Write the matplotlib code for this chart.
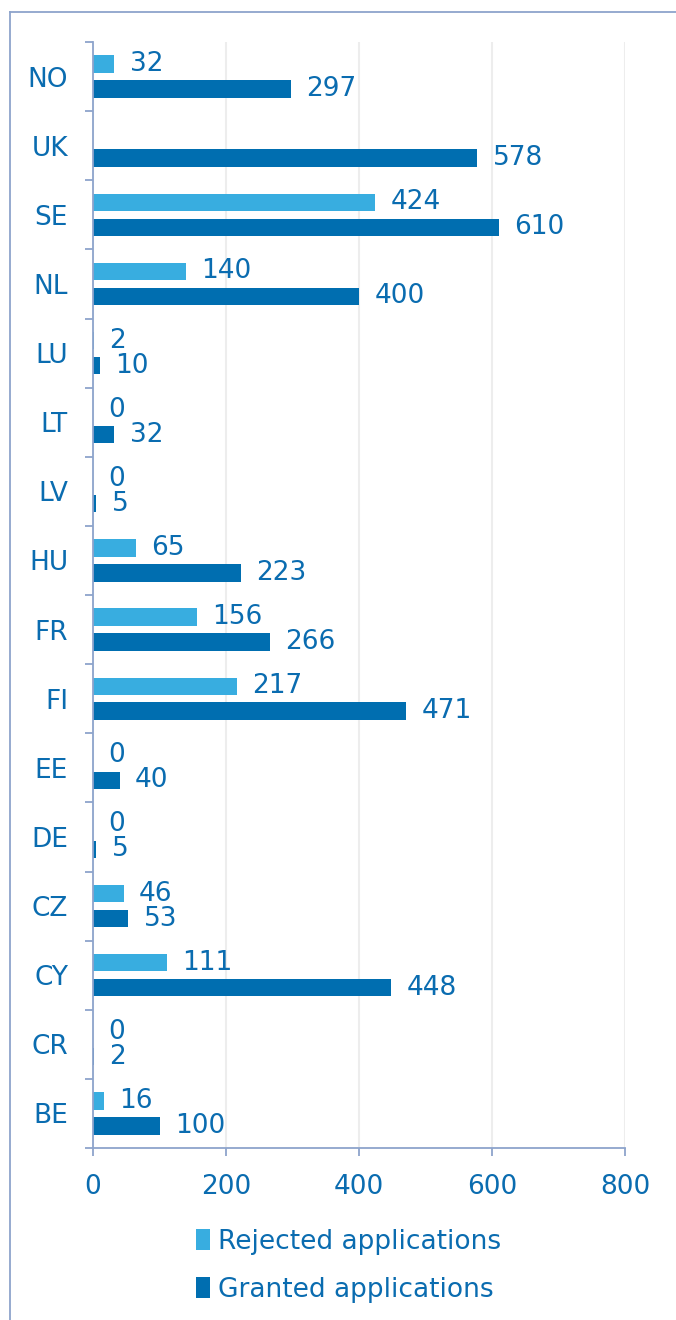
import numpy as np
import matplotlib
matplotlib.use("Agg")
from matplotlib import pyplot as plt
from matplotlib.lines import Line2D

# categories listed bottom to top, as drawn
countries = ["BE", "CR", "CY", "CZ", "DE", "EE", "FI", "FR", "HU", "LV", "LT", "LU", "NL", "SE", "UK", "NO"]
rejected = [16, 0, 111, 46, 0, 0, 217, 156, 65, 0, 0, 2, 140, 424, None, 32]
granted = [100, 2, 448, 53, 5, 40, 471, 266, 223, 5, 32, 10, 400, 610, 578, 297]
series_names = ["Rejected applications", "Granted applications"]

light = "#38ADE0"
dark = "#006EB0"
text_col = "#0A6CB0"
spine_col = "#8DA4CC"
fs = 19

plt.rcParams["font.family"] = ["DejaVu Sans"]

fig = plt.figure(figsize=(6.76, 13.2), dpi=100)
ax = fig.add_axes([93 / 676, 1 - 1148 / 1320, (625 - 93) / 676, (1148 - 42) / 1320])

y = np.arange(len(countries))
h = 0.25
off = 0.18
rej = np.array([np.nan if v is None else v for v in rejected], dtype=float)

b1 = ax.barh(y + off, np.nan_to_num(rej), height=h, color=light, label=series_names[0])
b2 = ax.barh(y - off, granted, height=h, color=dark, label=series_names[1])

for yi, v in zip(y, rej):
    if not np.isnan(v):
        ax.annotate(f"{int(v)}", (v, yi + off), xytext=(11, 0), textcoords="offset points",
                    va="center", ha="left", fontsize=fs, color=text_col)
for yi, v in zip(y, granted):
    ax.annotate(f"{v}", (v, yi - off), xytext=(11, 0), textcoords="offset points",
                va="center", ha="left", fontsize=fs, color=text_col)

ax.set_xlim(0, 800)
ax.set_ylim(-0.5, len(countries) - 0.5)
ax.set_xticks([0, 200, 400, 600, 800])
ax.set_yticks(np.arange(-0.5, len(countries)), labels=[])
ax.set_yticks(y, labels=countries, minor=True)
ax.tick_params(axis="y", which="major", length=6, color=spine_col, width=1.3, direction="out")
ax.tick_params(axis="y", which="minor", length=0, pad=18, labelsize=fs, labelcolor=text_col)
ax.tick_params(axis="x", length=6, color=spine_col, width=1.3, pad=13, labelsize=fs, labelcolor=text_col)

ax.grid(axis="x", color="#EDEDED", linewidth=1.5)
ax.set_axisbelow(True)
for s in ["top", "right"]:
    ax.spines[s].set_visible(False)
for s in ["left", "bottom"]:
    ax.spines[s].set_color(spine_col)
    ax.spines[s].set_linewidth(1.3)

leg = fig.legend(handles=[b1, b2], loc="upper left", bbox_to_anchor=(185 / 676, 1 - 1218 / 1320),
                 frameon=False, fontsize=fs, handlelength=0.55, handleheight=0.85,
                 handletextpad=0.3, labelspacing=0.85, borderaxespad=0)
for t in leg.get_texts():
    t.set_color(text_col)

# outer frame (left and top edges)
fig.add_artist(Line2D([10 / 676, 10 / 676], [0, 1 - 12 / 1320], transform=fig.transFigure,
                      color=spine_col, linewidth=1.3))
fig.add_artist(Line2D([10 / 676, 1], [1 - 12 / 1320, 1 - 12 / 1320], transform=fig.transFigure,
                      color=spine_col, linewidth=1.3))

fig.savefig("out.png", dpi=100)
